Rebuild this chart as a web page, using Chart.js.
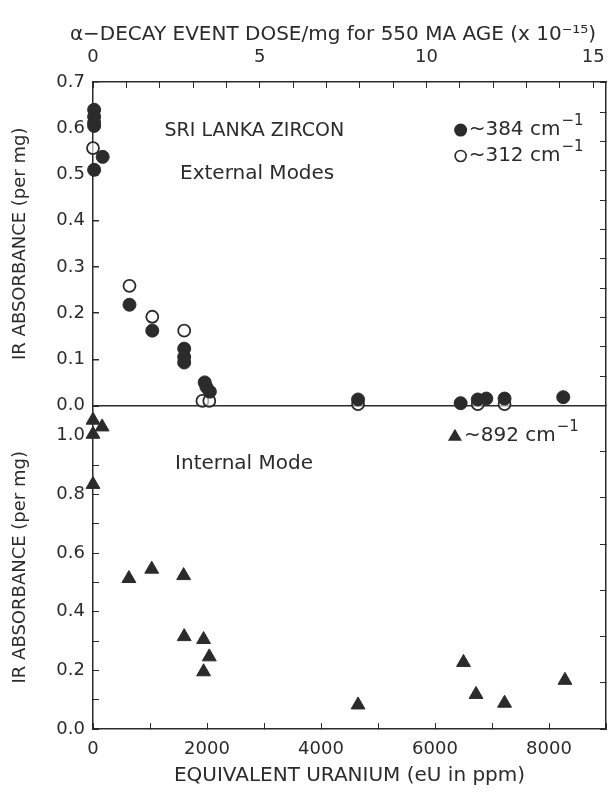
<!DOCTYPE html>
<html>
<head>
<meta charset="utf-8">
<script src="https://cdn.jsdelivr.net/npm/chart.js@4.4.1/dist/chart.umd.min.js"></script>
<style>
  html, body { margin: 0; padding: 0; background: #fff; }
  #wrap { width: 615px; height: 792px; }
</style>
</head>
<body>
<div id="wrap"><canvas id="zirconChart" width="615" height="792"></canvas></div>
<script>
// external modes (top panel)
var eU384 = [20, 20, 20, 20, 20, 170, 640, 1040, 1600, 1600, 1600, 1960, 1990, 2050, 4650, 6450, 6750, 6900, 7220, 8250];
var abs384 = [0.640, 0.625, 0.612, 0.605, 0.510, 0.538, 0.218, 0.162, 0.123, 0.105, 0.093, 0.050, 0.040, 0.030, 0.013, 0.005, 0.013, 0.015, 0.015, 0.018];

var eU312 = [0, 640, 1040, 1600, 1920, 2040, 4650, 6750, 7220];
var abs312 = [0.557, 0.259, 0.192, 0.162, 0.010, 0.010, 0.003, 0.003, 0.003];

// internal mode (bottom panel)
var eU892 = [0, 0, 160, 0, 630, 1030, 1590, 1600, 1940, 2040, 1940, 4650, 6500, 6720, 7220, 8280];
var abs892 = [1.053, 1.005, 1.030, 0.834, 0.513, 0.545, 0.523, 0.315, 0.305, 0.246, 0.195, 0.082, 0.227, 0.118, 0.088, 0.166];

var eUTicks = [0, 2000, 4000, 6000, 8000];
var doseTicks = [0, 5, 10, 15];

var ink = '#2b2b2b';
var fontFam = '"DejaVu Sans", sans-serif';

function pts(xs, ys) {
    return xs.map(function (x, i) { return { x: x, y: ys[i] }; });
}

function noSidePad(s) {
    s.paddingLeft = 0;
    s.paddingRight = 0;
}

// annotations + little legend drawn inside the plot
var notes = {
    id: 'notes',
    afterDatasetsDraw: function (chart) {
        var c = chart.ctx;
        var sx = chart.scales.x, y1 = chart.scales.y1, y2 = chart.scales.y2;
        c.save();
        c.fillStyle = ink;
        c.strokeStyle = ink;
        c.textBaseline = 'middle';
        c.textAlign = 'center';

        // top axis title is wider than the plot, so it is drawn here without a max width
        c.font = '20px ' + fontFam;
        c.fillText('\u03b1\u2212DECAY EVENT DOSE/mg for 550 MA AGE (x 10\u207b\u00b9\u2075)', 333, 35);

        c.font = '19px ' + fontFam;
        c.fillText('SRI LANKA ZIRCON', sx.getPixelForValue(2830), y1.getPixelForValue(0.593));
        c.font = '20px ' + fontFam;
        c.fillText('External Modes', sx.getPixelForValue(2880), y1.getPixelForValue(0.502));
        c.fillText('Internal Mode', sx.getPixelForValue(2650), y2.getPixelForValue(0.905));

        function label(xp, yp, txt) {
            c.textAlign = 'left';
            c.font = '20px ' + fontFam;
            c.fillText(txt, xp, yp);
            var w = c.measureText(txt).width;
            c.font = '15px ' + fontFam;
            c.fillText('\u22121', xp + w + 1, yp - 9);
        }
        // filled circle
        var lx = sx.getPixelForValue(6450);
        var ly = y1.getPixelForValue(0.596);
        c.beginPath(); c.arc(lx, ly, 6.5, 0, Math.PI * 2); c.fill();
        label(lx + 8, ly, '~384 cm');
        // open circle
        ly = y1.getPixelForValue(0.540);
        c.lineWidth = 1.6;
        c.beginPath(); c.arc(lx, ly, 5.5, 0, Math.PI * 2); c.stroke();
        label(lx + 8, ly, '~312 cm');
        // triangle
        var tx = sx.getPixelForValue(6350);
        var ty = y2.getPixelForValue(1.0);
        c.beginPath();
        c.moveTo(tx, ty - 7); c.lineTo(tx + 7, ty + 5); c.lineTo(tx - 7, ty + 5); c.closePath();
        c.fill();
        label(tx + 9, ty, '~892 cm');
        c.restore();
    }
};

var ctx = document.getElementById('zirconChart').getContext('2d');
window.zirconChart = new Chart(ctx, {
    type: 'scatter',
    data: {
        datasets: [{
            label: '~384 cm-1',
            data: pts(eU384, abs384),
            yAxisID: 'y1',
            pointStyle: 'circle',
            pointRadius: 6.5,
            backgroundColor: ink,
            borderColor: ink,
            borderWidth: 1,
            clip: false
        },
        {
            label: '~312 cm-1',
            data: pts(eU312, abs312),
            yAxisID: 'y1',
            pointStyle: 'circle',
            pointRadius: 6,
            backgroundColor: 'rgba(255,255,255,0.6)',
            borderColor: ink,
            borderWidth: 1.8,
            clip: false
        },
        {
            label: '~892 cm-1',
            data: pts(eU892, abs892),
            yAxisID: 'y2',
            pointStyle: 'triangle',
            pointRadius: 8,
            backgroundColor: ink,
            borderColor: ink,
            borderWidth: 1,
            clip: false
        }]
    },
    options: {
        responsive: false,
        animation: false,
        layout: { padding: 0 },
        plugins: {
            legend: { display: false },
            tooltip: { enabled: false }
        },
        scales: {
            x: {
                type: 'linear',
                position: 'bottom',
                min: 0, max: 9000,
                afterFit: function (s) { s.height = 63; noSidePad(s); },
                border: { color: ink, width: 1.5 },
                grid: { drawOnChartArea: false, tickLength: -6, tickColor: ink },
                ticks: {
                    stepSize: 1000, autoSkip: false, maxRotation: 0, padding: 16, includeBounds: false,
                    color: ink, font: { family: fontFam, size: 18 },
                    callback: function (v) { return eUTicks.indexOf(v) >= 0 ? String(v) : ''; }
                },
                title: {
                    display: true, text: 'EQUIVALENT URANIUM (eU in ppm)',
                    color: ink, font: { family: fontFam, size: 20 }, padding: { top: 5 }
                }
            },
            x2: {
                type: 'linear',
                position: 'top',
                min: 0, max: 15.38,
                afterFit: function (s) { s.height = 82; noSidePad(s); },
                border: { color: ink, width: 1.5 },
                grid: { drawOnChartArea: false, tickLength: -6, tickColor: ink },
                ticks: {
                    stepSize: 1, autoSkip: false, maxRotation: 0, padding: 20, includeBounds: false,
                    color: ink, font: { family: fontFam, size: 18 },
                    callback: function (v) { return doseTicks.indexOf(v) >= 0 ? String(v) : ''; }
                },
                title: { display: false }
            },
            // bottom panel is listed first: stacked boxes are laid out bottom-up
            y2: {
                type: 'linear',
                position: 'left',
                stack: 'left',
                stackWeight: 1,
                min: 0, max: 1.103,
                afterFit: function (s) { s.width = 93; },
                border: { color: ink, width: 1.5 },
                grid: { drawOnChartArea: false, tickLength: -6, tickColor: ink },
                ticks: {
                    stepSize: 0.1, autoSkip: false, padding: 14, includeBounds: false,
                    color: ink, font: { family: fontFam, size: 18 },
                    callback: function (v) { return Math.round(v * 10) % 2 === 0 ? v.toFixed(1) : ''; }
                },
                title: {
                    display: true, text: 'IR ABSORBANCE (per mg)',
                    color: ink, font: { family: fontFam, size: 18 }, padding: { top: 10, bottom: 0 }
                }
            },
            y1: {
                type: 'linear',
                position: 'left',
                stack: 'left',
                stackWeight: 1,
                min: 0, max: 0.7,
                afterFit: function (s) { s.width = 93; },
                border: { color: ink, width: 1.5 },
                grid: {
                    drawOnChartArea: true, tickLength: -6, tickColor: ink, lineWidth: 1.5,
                    color: function (c) { return c.tick && c.tick.value === 0 ? ink : 'rgba(0,0,0,0)'; }
                },
                ticks: {
                    stepSize: 0.1, autoSkip: false, padding: 14, includeBounds: false,
                    color: ink, font: { family: fontFam, size: 18 },
                    callback: function (v) { return v.toFixed(1); }
                },
                title: {
                    display: true, text: 'IR ABSORBANCE (per mg)',
                    color: ink, font: { family: fontFam, size: 18 }, padding: { top: 10, bottom: 0 }
                }
            },
            r2: {
                type: 'linear',
                position: 'right',
                stack: 'right',
                stackWeight: 1,
                min: 0, max: 1.103,
                afterFit: function (s) { s.width = 4; },
                border: { color: ink, width: 1.5 },
                grid: { drawOnChartArea: false, tickLength: -6, tickColor: ink },
                ticks: { stepSize: 0.1, display: false }
            },
            r1: {
                type: 'linear',
                position: 'right',
                stack: 'right',
                stackWeight: 1,
                min: 0, max: 0.7,
                afterFit: function (s) { s.width = 4; },
                border: { color: ink, width: 1.5 },
                grid: { drawOnChartArea: false, tickLength: -6, tickColor: ink },
                ticks: { stepSize: 0.1, display: false }
            }
        }
    },
    plugins: [notes]
});
</script>
</body>
</html>
